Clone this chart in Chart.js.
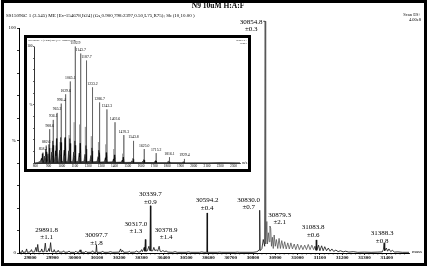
<!DOCTYPE html>
<html>
<head>
<meta charset="utf-8">
<script src="https://cdn.jsdelivr.net/npm/chart.js@4.4.0/dist/chart.umd.min.js"></script>
<style>
html, body { margin: 0; padding: 0; background: #fff; }
#wrap { position: relative; width: 430px; height: 270px; overflow: hidden; }
#main { position: absolute; left: 0; top: 0; }
#frame { position: absolute; left: 1px; top: 0; width: 420px; height: 260px; border: 3px solid #000; pointer-events: none; }
#insetBox { position: absolute; left: 24px; top: 35px; width: 221px; height: 131px; border: 3px solid #000; background: #fff; }
#inset { display: block; }
</style>
</head>
<body>
<div id="wrap">
  <canvas id="main" width="430" height="270"></canvas>
  <div id="insetBox"><canvas id="inset" width="221" height="131"></canvas></div>
  <div id="frame"></div>
</div>
<script>
const SERIF = "'Liberation Serif', 'DejaVu Serif', serif";

// deconvoluted spectrum, mass vs % intensity
const specMass = [29750, 29762, 29765, 29768, 29780, 29784, 29788, 29800, 29806, 29810,
  29820, 29826, 29830, 29834, 29838, 29848, 29852, 29856, 29863, 29868, 29872,
  29880, 29884, 29887, 29891.8, 29896, 29904, 29908, 29912, 29922, 29926, 29930,
  29945, 29950, 29955, 29970, 29975, 29980, 30000, 30005, 30010, 30020, 30024, 30028,
  30045, 30050, 30055, 30075, 30080, 30085, 30095, 30097.7, 30100, 30120, 30125, 30130,
  30150, 30160, 30170, 30200, 30206, 30210, 30215, 30220, 30240, 30245, 30250,
  30270, 30278, 30285, 30295, 30300, 30304, 30312, 30314, 30317, 30319,
  30326, 30333, 30337.5, 30339.7, 30341.5, 30350, 30355, 30360, 30366, 30372, 30378.9, 30383,
  30390, 30396, 30402, 30410, 30418, 30440, 30450, 30460, 30500, 30510, 30520,
  30560, 30570, 30580, 30592.5, 30594.2, 30596, 30640, 30650, 30660, 30720, 30730, 30740,
  30800, 30815, 30822, 30828, 30830, 30832, 30840, 30846, 30852.5, 30854.8, 30857,
  30862, 30865, 30869, 30873, 30876, 30879.3, 30883, 30887, 30891, 30895, 30900, 30905,
  30911, 30917, 30923, 30929, 30936, 30942, 30949, 30956, 30963, 30970, 30977, 30985,
  30992, 31000, 31008, 31016, 31024, 31032, 31040, 31048, 31056, 31064, 31072, 31078,
  31082, 31083.8, 31086, 31094, 31100, 31108, 31115, 31122, 31130, 31138, 31146, 31154,
  31162, 31172, 31182, 31192, 31205, 31215, 31230, 31250, 31270, 31300, 31330, 31360,
  31380, 31385, 31388.3, 31391, 31398, 31404, 31410, 31418, 31425, 31435, 31450, 31470, 31500];
const specInt = [0.3, 0.3, 1.2, 0.3, 0.4, 1.8, 0.3, 0.5, 1.5, 0.4,
  0.5, 2.5, 0.6, 3.8, 0.5, 0.6, 1.8, 0.5, 0.6, 4.4, 0.6,
  0.8, 2, 0.7, 4.6, 0.6, 0.5, 1.5, 0.4, 0.5, 1.2, 0.4,
  0.4, 1, 0.3, 0.4, 0.9, 0.3, 0.3, 0.8, 0.3, 0.4, 1.4, 0.3,
  0.3, 0.8, 0.3, 0.3, 1, 0.3, 0.3, 3.6, 0.3, 0.3, 0.9, 0.3,
  0.3, 0.6, 0.3, 0.4, 1.8, 0.4, 1.2, 0.3, 0.4, 0.8, 0.3,
  0.4, 0.9, 0.4, 0.5, 1.5, 0.6, 2.5, 0.8, 6, 0.8,
  1, 3, 1, 21, 1, 1, 2.5, 1, 1.5, 0.8, 3, 0.8,
  0.6, 1.2, 0.5, 0.9, 0.4, 0.3, 0.6, 0.3, 0.3, 0.5, 0.3,
  0.3, 0.5, 0.3, 0.3, 17.8, 0.3, 0.3, 0.4, 0.3, 0.3, 0.4, 0.3,
  0.3, 0.5, 0.8, 1.5, 19, 1, 2, 6, 3, 103, 4,
  14, 4, 9, 5, 12, 11, 3, 7, 2, 8, 3, 6,
  2, 6.5, 2, 5.5, 2, 5, 1.8, 4.5, 1.8, 4.5, 1.8, 4,
  1.5, 4, 1.5, 3.5, 1.5, 3.5, 1.5, 3.8, 1.5, 3.5, 1.5, 3,
  1.2, 5.8, 1.2, 3.5, 1, 3.2, 1, 2.8, 1, 2.2, 0.8, 1.8,
  0.7, 1.3, 0.6, 1, 0.5, 0.8, 0.4, 0.6, 0.3, 0.4, 0.3, 0.4,
  0.5, 1.5, 4.4, 1, 2.2, 0.8, 1.8, 0.6, 1.2, 0.4, 0.5, 0.3, 0.3];

// annotated peaks
const peakMass = [29891.8, 30097.7, 30317.0, 30339.7, 30378.9, 30594.2, 30830.0, 30854.8, 30879.3, 31083.8, 31388.3];
const peakInt = [4.6, 3.6, 6, 21, 3, 17.8, 19, 103, 11, 5.8, 4.4];
const peakErr = ['±1.1', '±1.8', '±1.3', '±0.9', '±1.4', '±0.4', '±0.7', '±0.3', '±2.1', '±0.6', '±0.8'];

const massTicks = [29800, 29900, 30000, 30100, 30200, 30300, 30400, 30500, 30600, 30700,
  30800, 30900, 31000, 31100, 31200, 31300, 31400];
const pctTicks = [0, 10, 20, 30, 40, 50, 60, 70, 80, 90, 100];

// inset: raw m/z spectrum
const mzPeak = [858.1, 882.6, 908.6, 936.1, 965.2, 996.4, 1029.6, 1065.1, 1102.9, 1143.7, 1187.7,
  1233.2, 1286.7, 1342.3, 1403.6, 1470.3, 1543.8, 1625.0, 1715.2, 1816.1, 1929.4];
const mzInt = [9, 15, 29, 37, 43, 51, 59, 70, 100, 94, 88, 65, 52, 46, 35, 24, 19, 12, 8.5, 5, 3.5];
const satMz = [928, 957, 988, 1021, 1056, 1094, 1135, 1179, 1224, 1278, 1333, 1394, 1461];
const satInt = [13, 15, 18, 21, 24, 35, 33, 31, 23, 18, 16, 12, 8];
const envMz = [790, 820, 838, 846, 849, 853, 855, 857, 861, 863, 871, 874, 878, 880, 882, 886,
  888, 896, 899, 903, 905, 907, 911, 916, 924, 927, 931, 933, 935, 939,
  945, 953, 956, 960, 962, 964, 968, 976, 984, 987, 991, 993, 995, 999,
  1010, 1018, 1021, 1025, 1027, 1029, 1033, 1045, 1053, 1056, 1060, 1062, 1064, 1068,
  1083, 1091, 1094, 1098, 1100, 1102, 1106, 1124, 1132, 1135, 1139, 1141, 1143, 1147,
  1168, 1176, 1179, 1183, 1185, 1187, 1191, 1213, 1221, 1224, 1228, 1230, 1232, 1236,
  1267, 1275, 1278, 1282, 1284, 1286, 1290, 1322, 1330, 1333, 1337, 1339, 1341, 1345,
  1384, 1392, 1395, 1399, 1401, 1403, 1407, 1450, 1458, 1461, 1465, 1467, 1469, 1473,
  1524, 1532, 1535, 1539, 1541, 1543, 1547, 1605, 1613, 1616, 1620, 1622, 1624, 1628,
  1695, 1703, 1706, 1710, 1712, 1714, 1718, 1796, 1808, 1813, 1819, 1909, 1924, 1932,
  2000, 2100, 2200, 2350];
const envInt = [0, 0.5, 1.5, 4, 2.4, 8, 4, 6.4, 1, 1.5, 6, 3.6, 12, 6, 9.6, 1,
  1.5, 8, 4.8, 16, 8, 12.8, 1, 1.5, 9.5, 5.7, 19, 9.5, 15.2, 1,
  1.5, 10.5, 6.3, 21, 10.5, 16.8, 1, 1.5, 11, 6.6, 22, 11, 17.6, 1,
  1.5, 11, 6.6, 22, 11, 17.6, 1, 1.5, 10.5, 6.3, 21, 10.5, 16.8, 1,
  1.5, 9.5, 5.7, 19, 9.5, 15.2, 1, 1.5, 8.5, 5.1, 17, 8.5, 13.6, 1,
  1.5, 7.5, 4.5, 15, 7.5, 12, 1, 1.5, 6.5, 3.9, 13, 6.5, 10.4, 1,
  1.2, 5.5, 3.3, 11, 5.5, 8.8, 0.8, 1, 4.5, 2.7, 9, 4.5, 7.2, 0.8,
  1, 3.5, 2.1, 7, 3.5, 5.6, 0.6, 0.8, 2.5, 1.5, 5, 2.5, 4, 0.5,
  0.6, 2, 1.2, 4, 2, 3.2, 0.5, 0.5, 1.5, 0.9, 3, 1.5, 2.4, 0.4,
  0.4, 1, 0.6, 2, 1, 1.6, 0.3, 0.3, 1.5, 1, 0.3, 0.3, 1, 0.2,
  0.3, 0.2, 0.4, 0.2];
const mzTicks = [800, 900, 1000, 1100, 1200, 1300, 1400, 1500, 1600, 1700, 1800, 1900, 2000, 2100, 2200, 2300];
const insetPctTicks = [0, 10, 20, 30, 40, 50, 60, 70, 80, 90, 100];

function sticks(xs, ys) {
  return xs.flatMap((m, i) => [{x: m, y: 0}, {x: m, y: ys[i]}, {x: m, y: 0}]);
}

// ---------- main chart ----------
const mainDecor = {
  id: 'mainDecor',
  afterDraw(chart) {
    const {ctx, scales: {x, y}} = chart;
    ctx.save();
    ctx.fillStyle = '#000';
    ctx.strokeStyle = '#000';
    // y axis line 0..100
    ctx.lineWidth = 1;
    ctx.beginPath();
    ctx.moveTo(x.left + 0.5, y.getPixelForValue(0));
    ctx.lineTo(x.left + 0.5, y.getPixelForValue(100));
    ctx.stroke();
    // minor ticks on mass axis
    ctx.lineWidth = 0.6;
    ctx.beginPath();
    for (let v = 29760; v <= 31500; v += 20) {
      if (v % 100 === 0) continue;
      const px = x.getPixelForValue(v);
      ctx.moveTo(px, y.bottom);
      ctx.lineTo(px, y.bottom + 1.5);
    }
    ctx.stroke();
    ctx.textBaseline = 'middle';
    ctx.textAlign = 'center';
    ctx.font = 'bold 7.5px ' + SERIF;
    ctx.fillText('N9 10uM H:A:F', 218, 6.5);
    ctx.textAlign = 'left';
    ctx.font = '5px ' + SERIF;
    ctx.fillText('SS15096C 1 (3.545) ME [Ev-154678,It24] (Gs,0.900,798:2397,0.50,L75,R75); Sb (10,10.00 )', 6, 15.5);
    ctx.textAlign = 'right';
    ctx.font = '4.5px ' + SERIF;
    ctx.fillText('Scan ES+', 421, 15);
    ctx.fillText('4.00e8', 421, 20);
    ctx.textAlign = 'left';
    ctx.font = '5px ' + SERIF;
    ctx.fillText('mass', 412, y.bottom - 1);
    ctx.restore();
  }
};

const peakLabels = {
  id: 'peakLabels',
  afterDatasetsDraw(chart, args, opts) {
    const {ctx, scales: {x, y}} = chart;
    ctx.save();
    ctx.font = opts.font;
    ctx.fillStyle = '#000';
    ctx.textAlign = 'center';
    ctx.textBaseline = 'middle';
    peakMass.forEach((m, i) => {
      const peakX = x.getPixelForValue(m);
      const px = peakX + opts.dx[i];
      const top = y.getPixelForValue(peakInt[i]);
      const line2 = top - opts.gap[i];
      ctx.fillText(m.toFixed(1), px, line2 - 7.5);
      ctx.fillText(peakErr[i], px, line2);
      if (opts.leader[i]) {
        ctx.strokeStyle = '#000';
        ctx.lineWidth = 0.7;
        ctx.beginPath();
        ctx.moveTo(px + 12, top);
        ctx.lineTo(peakX, top);
        ctx.stroke();
      }
    });
    ctx.restore();
  }
};

new Chart(document.getElementById('main'), {
  type: 'line',
  data: {
    datasets: [{
      data: specMass.map((m, i) => ({x: m, y: specInt[i]})),
      borderColor: '#111',
      borderWidth: 0.8,
      pointRadius: 0,
      tension: 0,
      fill: false,
      segment: {
        borderColor: (c) => c.p0.parsed.x >= 30854.8 && c.p1.parsed.x < 31080 ? '#555' : undefined
      }
    }]
  },
  options: {
    responsive: false,
    animation: false,
    devicePixelRatio: 1,
    layout: {padding: {left: 2, right: 21, top: 17, bottom: 7}},
    plugins: {
      legend: {display: false},
      tooltip: {enabled: false},
      peakLabels: {
        font: '7px ' + SERIF,
        dx: [-4, 0, -9.5, 0, 7, 0, -11, -14, 9, -3, -2],
        gap: [5, 2, 8, 4, 9, 5, 3, -8, 6, 5, 2],
        leader: [false, false, false, false, false, false, false, true, false, false, false]
      }
    },
    scales: {
      x: {
        type: 'linear',
        min: 29750,
        max: 31500,
        afterBuildTicks: (s) => { s.ticks = massTicks.map(v => ({value: v})); },
        afterFit: (s) => { s.height = 10; },
        ticks: {
          autoSkip: false,
          maxRotation: 0,
          padding: 0,
          color: '#000',
          font: {family: SERIF, size: 5, weight: 'bold'},
          callback: (v) => String(v)
        },
        grid: {display: true, drawOnChartArea: false, drawTicks: true, tickLength: 2, color: '#000', lineWidth: 0.8},
        border: {display: true, color: '#000', width: 1}
      },
      y: {
        min: 0,
        max: 104.9,
        afterBuildTicks: (s) => { s.ticks = pctTicks.map(v => ({value: v})); },
        afterFit: (s) => { s.width = 17; },
        ticks: {
          autoSkip: false,
          padding: 1,
          color: '#000',
          font: {family: SERIF, size: 5},
          callback: (v) => v === 100 ? '100' : v === 50 ? '%' : v === 0 ? '0' : ''
        },
        grid: {display: true, drawOnChartArea: false, drawTicks: true, tickLength: 2, color: '#000', lineWidth: 0.8},
        border: {display: false}
      }
    }
  },
  plugins: [peakLabels, mainDecor]
});

// ---------- inset chart ----------
const insetDecor = {
  id: 'insetDecor',
  afterDraw(chart) {
    const {ctx, scales: {x, y}} = chart;
    ctx.save();
    ctx.strokeStyle = '#000';
    ctx.fillStyle = '#000';
    ctx.lineWidth = 0.8;
    ctx.beginPath();
    ctx.moveTo(x.left + 0.5, y.getPixelForValue(0));
    ctx.lineTo(x.left + 0.5, y.getPixelForValue(100));
    ctx.stroke();
    ctx.textBaseline = 'middle';
    ctx.font = '3.8px ' + SERIF;
    ctx.textAlign = 'center';
    mzPeak.forEach((m, i) => {
      ctx.fillText(m.toFixed(1), x.getPixelForValue(m), y.getPixelForValue(mzInt[i]) - 3.5);
    });
    ctx.textAlign = 'left';
    ctx.font = '2.8px ' + SERIF;
    ctx.fillText('SS15096C 1 (3.545) ME [Ev-154678,It24]', 1, 2.5);
    ctx.textAlign = 'right';
    ctx.fillText('Scan ES+', 220, 2.5);
    ctx.fillText('1.60e7', 220, 5.5);
    ctx.textAlign = 'left';
    ctx.font = '3.5px ' + SERIF;
    ctx.fillText('m/z', 215, y.bottom);
    ctx.restore();
  }
};

new Chart(document.getElementById('inset'), {
  type: 'line',
  data: {
    datasets: [
      {
        data: envMz.map((m, i) => ({x: m, y: envInt[i]})),
        borderColor: '#000',
        backgroundColor: 'rgba(0,0,0,0.7)',
        borderWidth: 0.5,
        pointRadius: 0,
        tension: 0,
        fill: 'origin'
      },
      {
        data: sticks(satMz, satInt),
        borderColor: '#888',
        borderWidth: 0.6,
        pointRadius: 0,
        tension: 0
      },
      {
        data: sticks(mzPeak, mzInt),
        borderColor: '#555',
        borderWidth: 0.7,
        pointRadius: 0,
        tension: 0
      }
    ]
  },
  options: {
    responsive: false,
    animation: false,
    devicePixelRatio: 1,
    layout: {padding: {left: 0, right: 8, top: 2, bottom: 0}},
    plugins: {legend: {display: false}, tooltip: {enabled: false}},
    scales: {
      x: {
        type: 'linear',
        min: 790,
        max: 2350,
        afterBuildTicks: (s) => { s.ticks = mzTicks.map(v => ({value: v})); },
        afterFit: (s) => { s.height = 6; },
        ticks: {
          autoSkip: false,
          maxRotation: 0,
          padding: 0,
          color: '#000',
          font: {family: SERIF, size: 3.5},
          callback: (v) => String(v)
        },
        grid: {display: true, drawOnChartArea: false, drawTicks: true, tickLength: 1, color: '#000', lineWidth: 0.6},
        border: {display: true, color: '#000', width: 0.8}
      },
      y: {
        min: 0,
        max: 105.1,
        afterBuildTicks: (s) => { s.ticks = insetPctTicks.map(v => ({value: v})); },
        afterFit: (s) => { s.width = 7; },
        ticks: {
          autoSkip: false,
          padding: 0.5,
          color: '#000',
          font: {family: SERIF, size: 3.5},
          callback: (v) => v === 100 ? '100' : v === 50 ? '%' : ''
        },
        grid: {display: true, drawOnChartArea: false, drawTicks: true, tickLength: 1, color: '#000', lineWidth: 0.6},
        border: {display: false}
      }
    }
  },
  plugins: [insetDecor]
});
</script>
</body>
</html>
